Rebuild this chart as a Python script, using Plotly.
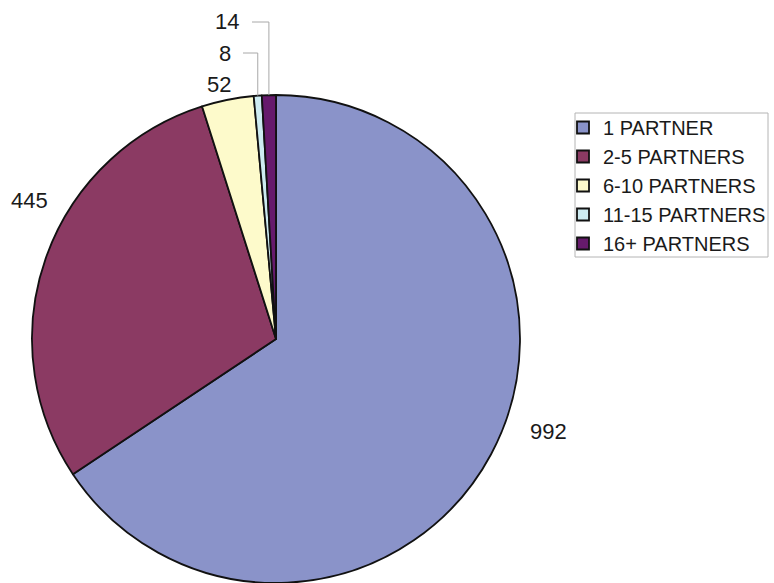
import math
import plotly.graph_objects as go

# Number of partners reported
categories = ["1 PARTNER", "2-5 PARTNERS", "6-10 PARTNERS", "11-15 PARTNERS", "16+ PARTNERS"]
counts = [992, 445, 52, 8, 14]
colors = ["#8A93C9", "#8B3A63", "#FDFACB", "#CDEBF1", "#661A6C"]

W, H = 774, 583
# pie geometry in pixels (centre measured from the top-left corner)
R = 244
CX, CY = 276, H - R

fig = go.Figure(
    go.Pie(
        labels=categories,
        values=counts,
        sort=False,
        direction="clockwise",
        rotation=0,
        textinfo="none",
        hoverinfo="label+value",
        marker=dict(colors=colors, line=dict(color="#111111", width=1.8)),
        domain=dict(x=[(CX - R) / W, (CX + R) / W], y=[0, 2 * R / H]),
    )
)

# value label placement (pixel positions, top-left origin)
label_pos = {
    "1 PARTNER": (548, 431),
    "2-5 PARTNERS": (29, 200),
    "6-10 PARTNERS": (219, 84),
    "11-15 PARTNERS": (225, 53),
    "16+ PARTNERS": (227, 22),
}
# categories whose labels are joined to their slice by a leader line
leader_from = {"11-15 PARTNERS": (243, 259), "16+ PARTNERS": (252, 267)}

total = sum(counts)
cum = 0
annotations = []
shapes = []
for name, v in zip(categories, counts):
    mid = (cum + v / 2) / total * 2 * math.pi
    cum += v
    lx, ly = label_pos[name]
    annotations.append(dict(
        x=lx / W, y=1 - ly / H, xref="paper", yref="paper",
        text=str(v), showarrow=False,
        font=dict(family="Liberation Sans, Arial", size=22, color="#1A1A1A"),
        xanchor="center", yanchor="middle",
    ))
    if name in leader_from:
        x0, _ = leader_from[name]
        ex = CX + R * math.sin(mid)
        ey = CY - R * math.cos(mid)
        path = "M{},{} L{},{} L{},{}".format(
            x0 / W, 1 - ly / H, ex / W, 1 - ly / H, ex / W, 1 - ey / H)
        shapes.append(dict(type="path", path=path, xref="paper", yref="paper",
                           line=dict(color="#A8A8A8", width=1)))

# legend frame
shapes.append(dict(type="rect", xref="paper", yref="paper",
                   x0=575 / W, x1=768 / W, y0=1 - 257 / H, y1=1 - 113 / H,
                   line=dict(color="#B4B4B4", width=1), fillcolor="rgba(0,0,0,0)"))

fig.update_layout(
    width=W, height=H,
    margin=dict(l=0, r=0, t=0, b=0),
    paper_bgcolor="white",
    plot_bgcolor="white",
    showlegend=True,
    legend=dict(
        x=563 / W, y=1 - 108 / H, xanchor="left", yanchor="top",
        font=dict(family="Liberation Sans, Arial", size=20, color="#1A1A1A"),
        bgcolor="rgba(0,0,0,0)", borderwidth=0,
        traceorder="normal",
    ),
    annotations=annotations,
    shapes=shapes,
)

fig.write_html("out.html")
